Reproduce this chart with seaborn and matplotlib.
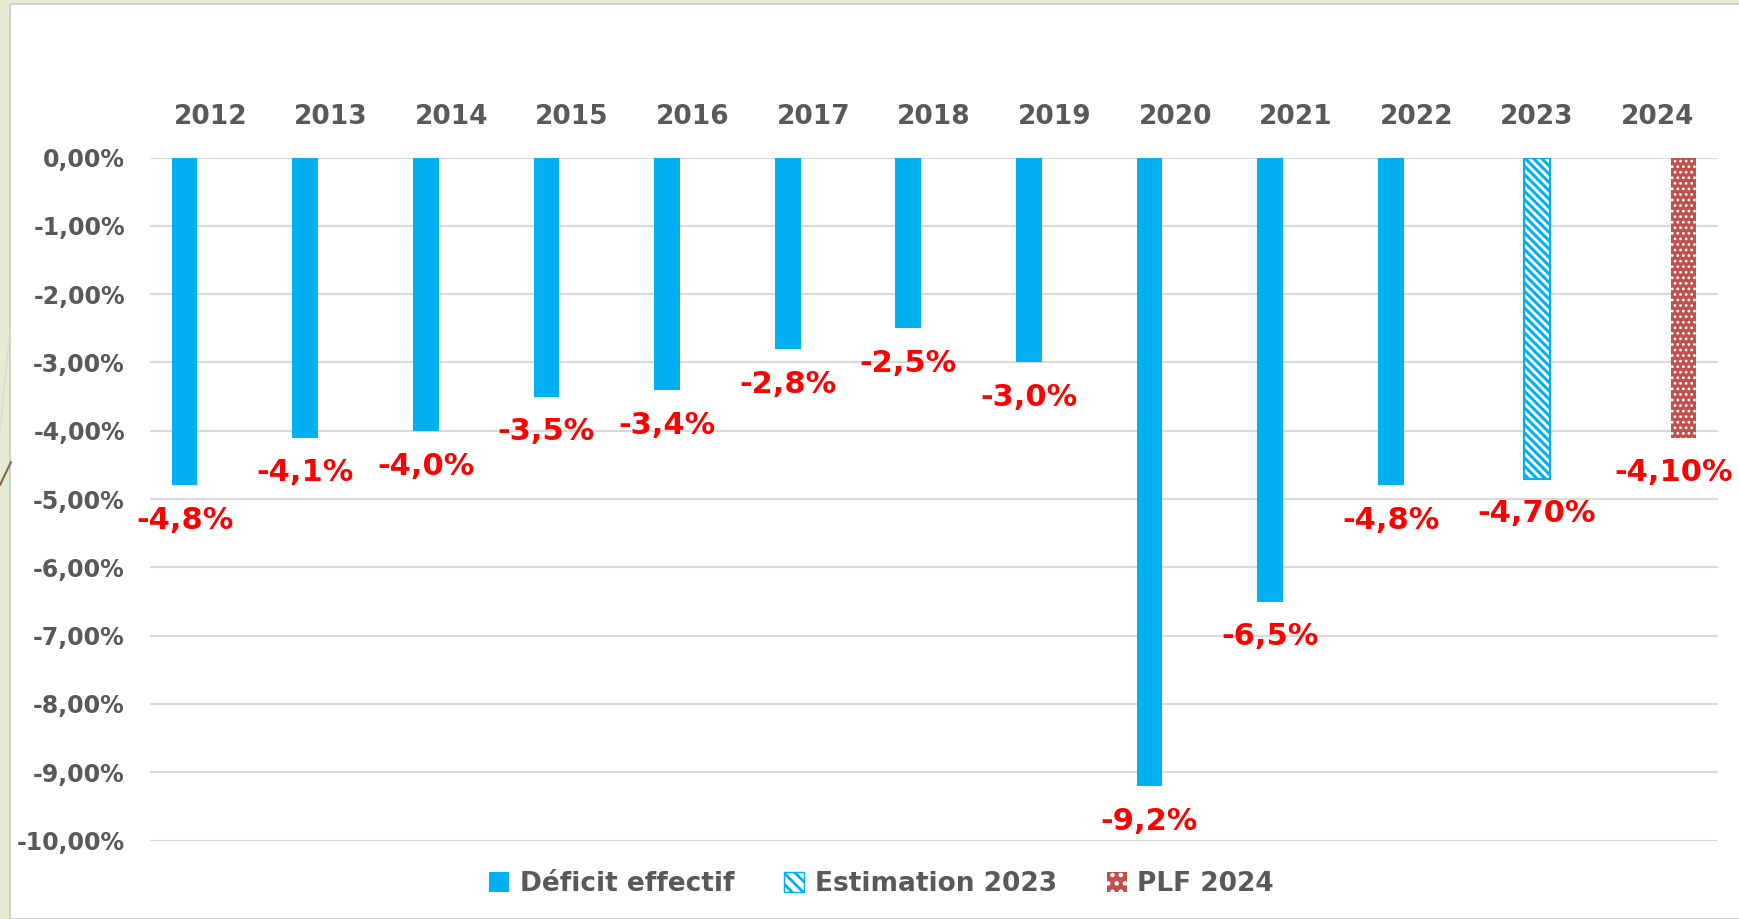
import pandas as pd
import matplotlib.pyplot as plt
import seaborn as sns
from matplotlib.patches import Patch, Rectangle
from matplotlib.lines import Line2D

years = ['2012', '2013', '2014', '2015', '2016', '2017', '2018', '2019',
         '2020', '2021', '2022', '2023', '2024']
deficit = [-4.8, -4.1, -4.0, -3.5, -3.4, -2.8, -2.5, -3.0, -9.2, -6.5, -4.8]
estimation = [-4.7]
plf = [-4.1]
series = ['Déficit effectif', 'Estimation 2023', 'PLF 2024']

df = pd.DataFrame({
    'annee': years[:11] + ['2023', '2024'],
    'valeur': deficit + estimation + plf,
    'serie': [series[0]] * 11 + [series[1], series[2]],
})

blue = '#00B0F0'
red = '#C0504D'
grey = '#595959'

sns.set_style('white')
plt.rcParams['font.family'] = ['DejaVu Sans']
plt.rcParams['hatch.linewidth'] = 2.0

fig = plt.figure(figsize=(17.39, 9.19), dpi=100)
fig.patch.set_facecolor('#E6EBD4')
fig.patches.append(Rectangle((10 / 1739, 0), 1, 1 - 4 / 919, transform=fig.transFigure,
                             facecolor='white', edgecolor='#C8C8C8', linewidth=1.2, zorder=-5))
fig.add_artist(Line2D([0, 11 / 1739], [1 - 485 / 919, 1 - 462 / 919], color='#7F6A4C', lw=1.5,
                      zorder=-4))
fig.add_artist(Line2D([0, 10 / 1739], [1 - 430 / 919, 1 - 330 / 919], color='#DADDC8', lw=1,
                      zorder=-4))

ax = fig.add_axes([150 / 1739, 1 - 840.6 / 919, (1718 - 150) / 1739, (840.6 - 157.5) / 919])
ax.set_facecolor('white')

sns.barplot(data=df, x='annee', y='valeur', hue='serie', order=years, hue_order=series,
            width=0.64, dodge=True, ax=ax, legend=False, saturation=1, zorder=3)

styles = [
    dict(facecolor=blue, edgecolor=blue, hatch=None, linewidth=0),
    dict(facecolor='white', edgecolor=blue, hatch='\\\\\\\\', linewidth=1.5),
    dict(facecolor=red, edgecolor='white', hatch='...', linewidth=0),
]
hatch_lw = [2.0, 2.2, 1.2]
fmts = ['{:.1f}%', '{:.2f}%', '{:.2f}%']
label_shift = [0, 0, -7]
for cont, st, hlw, fmt, dx in zip(ax.containers, styles, hatch_lw, fmts, label_shift):
    for bar in cont:
        bar.set_facecolor(st['facecolor'])
        bar.set_edgecolor(st['edgecolor'])
        bar.set_linewidth(st['linewidth'])
        if st['hatch']:
            bar.set_hatch(st['hatch'])
            if hasattr(bar, 'set_hatch_linewidth'):
                bar.set_hatch_linewidth(hlw)
            else:
                bar._hatch_linewidth = hlw
    vals = [v for v in cont.datavalues]
    labels = [fmt.format(v).replace('.', ',') for v in vals]
    anns = ax.bar_label(cont, labels=labels, padding=15, color='#FF0000',
                        fontsize=22, fontweight='bold')
    for a in anns:
        x0, y0 = a.xyann
        a.xyann = (x0 + dx, y0)

ax.set_ylim(-10, 0)
ax.set_xlim(-0.5, 12.5)
ax.set_yticks(range(0, -11, -1))
ax.set_yticklabels([f'{v},00%' for v in range(0, -11, -1)])
ax.yaxis.grid(True, color='#D9D9D9', linewidth=1.5, zorder=0)
ax.set_axisbelow(True)
ax.xaxis.tick_top()
ax.tick_params(axis='x', length=0, pad=20, labelsize=19, labelcolor=grey)
ax.tick_params(axis='y', length=0, pad=18, labelsize=17, labelcolor=grey)
for lbl in ax.get_xticklabels() + ax.get_yticklabels():
    lbl.set_fontweight('bold')
ax.set_xlabel('')
ax.set_ylabel('')
sns.despine(ax=ax, left=True, bottom=True)

handles = [Patch(**styles[0]),
           Patch(facecolor='white', edgecolor=blue, hatch='\\\\\\', linewidth=1),
           Patch(facecolor=red, edgecolor='white', hatch='..', linewidth=0)]
leg = fig.legend(handles, series, loc='center', bbox_to_anchor=(0.507, 0.038), ncol=3,
                 frameon=False, handlelength=0.75, handleheight=0.75, handletextpad=0.4,
                 columnspacing=1.9, prop={'size': 19, 'weight': 'bold'})
for t in leg.get_texts():
    t.set_color(grey)

fig.savefig('out.png', dpi=100)
